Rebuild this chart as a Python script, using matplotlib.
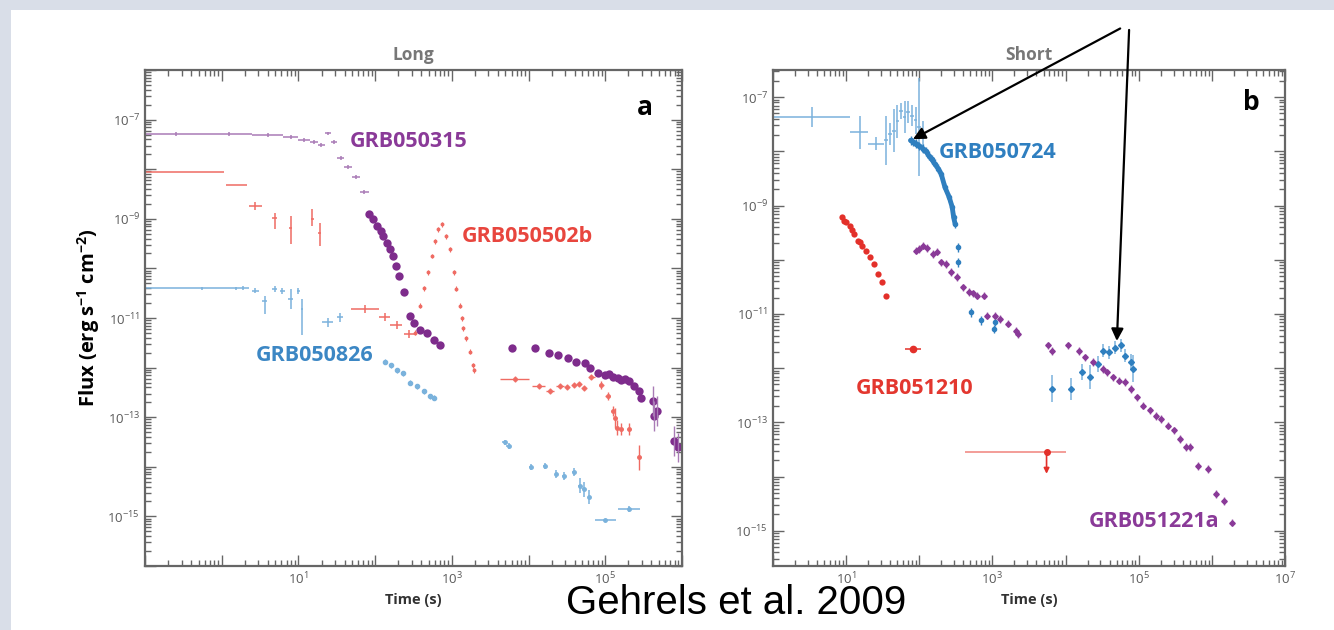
import numpy as np
import matplotlib.pyplot as plt
from matplotlib.patches import Rectangle
from matplotlib.ticker import LogLocator, FuncFormatter, NullFormatter

plt.rcParams['font.family'] = ['Open Sans', 'DejaVu Sans']
plt.rcParams['mathtext.default'] = 'regular'

purple = '#7e2c8c'
purple_lt = '#a97bb6'
salmon = '#ef6b63'
red = '#e3302a'
blue = '#2f7fbf'
blue_lt = '#7ab2dc'

# all values below are log10(time [s]) and log10(flux [erg/s/cm2])

# ---------------- Long (panel a) ----------------
# GRB050315, BAT bins (edges) + XRT points
bat315_lo = [-1.0, -0.2, 0.4, 0.8, 1.0, 1.15, 1.25, 1.35, 1.42, 1.5, 1.6, 1.7, 1.8]
bat315_hi = [-0.2, 0.4, 0.8, 1.0, 1.15, 1.25, 1.35, 1.42, 1.5, 1.6, 1.7, 1.8, 1.92]
bat315_f = [-7.29, -7.29, -7.31, -7.36, -7.42, -7.46, -7.52, -7.28, -7.45, -7.78, -7.95, -8.15, -8.45]
xrt315_t = [1.92, 1.97, 2.03, 2.07, 2.10, 2.15, 2.19, 2.23, 2.27, 2.31, 2.38, 2.46, 2.51, 2.59,
            2.67, 2.77, 2.85, 3.79, 4.08, 4.26, 4.38, 4.51, 4.62, 4.74, 4.80, 4.90, 5.0, 5.05,
            5.10, 5.16, 5.21, 5.26, 5.31, 5.38, 5.44, 5.46, 5.62, 5.67, 5.64, 5.90, 5.95]
xrt315_f = [-8.91, -9.01, -9.15, -9.25, -9.35, -9.48, -9.60, -9.75, -9.95, -10.15, -10.48, -10.95,
            -11.11, -11.25, -11.31, -11.45, -11.55, -11.61, -11.61, -11.71, -11.75, -11.81, -11.88,
            -11.91, -12.0, -12.11, -12.15, -12.12, -12.18, -12.20, -12.25, -12.22, -12.28, -12.38,
            -12.48, -12.61, -12.68, -12.88, -12.98, -13.48, -13.61]

# GRB050502b
bat502_t = [-0.47, 0.19, 0.44, 0.69, 0.90, 1.18, 1.28]
bat502_lo = [-1.0, 0.05, 0.36, 0.66, 0.88, 1.16, 1.26]
bat502_hi = [0.03, 0.33, 0.52, 0.72, 0.92, 1.20, 1.30]
bat502_f = [-8.05, -8.31, -8.75, -8.98, -9.18, -9.01, -9.28]
bat502_eup = [0.0, 0.0, 0.08, 0.10, 0.23, 0.20, 0.20]
bat502_edn = [0.0, 0.0, 0.08, 0.23, 0.33, 0.14, 0.27]
x502_t = [1.87, 2.13, 2.28, 2.44]
x502_lo = [1.69, 2.05, 2.20, 2.38]
x502_hi = [2.05, 2.20, 2.35, 2.50]
x502_f = [-10.81, -10.98, -11.15, -11.33]
fl502_t = [2.52, 2.59, 2.64, 2.69, 2.74, 2.78, 2.82, 2.87, 2.92, 2.97, 3.03, 3.05, 3.10, 3.13,
           3.15, 3.18, 3.23, 3.28, 3.29]
fl502_f = [-11.3, -10.75, -10.4, -10.08, -9.75, -9.45, -9.21, -9.11, -9.35, -9.61, -10.08, -10.41,
           -10.75, -11.01, -11.21, -11.41, -11.68, -11.95, -12.05]
late502_t = [3.82, 4.13, 4.28, 4.41, 4.50, 4.59, 4.66, 4.72, 4.82, 4.95, 5.03, 5.10, 5.13, 5.15,
             5.21, 5.31, 5.44]
late502_f = [-12.23, -12.38, -12.48, -12.38, -12.40, -12.35, -12.33, -12.41, -12.18, -12.35,
             -12.58, -12.88, -13.01, -13.21, -13.24, -13.24, -13.81]
late502_dt = [0.19, 0.08, 0.05, 0.05, 0.04, 0.04, 0.04, 0.04, 0.04, 0.03, 0.03, 0.02, 0.02, 0.02,
              0.02, 0.03, 0.02]
late502_df = [0.06, 0.06, 0.06, 0.06, 0.06, 0.06, 0.06, 0.06, 0.06, 0.08, 0.08, 0.1, 0.2, 0.15,
              0.12, 0.12, 0.25]

# GRB050826
bat826_t = [-0.26, 0.18, 0.28, 0.44, 0.56, 0.69, 0.79, 0.90, 1.0, 1.05, 1.38, 1.54]
bat826_lo = [-1.0, 0.10, 0.25, 0.39, 0.53, 0.66, 0.76, 0.87, 0.98, 1.04, 1.31, 1.50]
bat826_hi = [0.10, 0.25, 0.35, 0.49, 0.59, 0.72, 0.82, 0.93, 1.02, 1.06, 1.45, 1.58]
bat826_f = [-10.40, -10.40, -10.40, -10.45, -10.65, -10.41, -10.45, -10.61, -10.45, -10.81, -11.08, -10.98]
bat826_eup = [0.03, 0.03, 0.04, 0.05, 0.10, 0.06, 0.06, 0.2, 0.06, 0.2, 0.08, 0.08]
bat826_edn = [0.03, 0.03, 0.04, 0.05, 0.27, 0.06, 0.06, 0.2, 0.06, 0.54, 0.1, 0.1]
xrt826_t = [2.13, 2.21, 2.28, 2.36, 2.46, 2.54, 2.64, 2.72, 2.77]
xrt826_f = [-11.88, -11.95, -12.05, -12.11, -12.31, -12.38, -12.48, -12.58, -12.61]
late826_t = [3.69, 3.74, 4.03, 4.21, 4.36, 4.46, 4.59, 4.67, 4.72, 4.79, 5.0, 5.31]
late826_f = [-13.51, -13.58, -14.01, -13.98, -14.15, -14.18, -14.11, -14.38, -14.45, -14.61, -15.08, -14.85]
late826_dt = [0.03, 0.03, 0.02, 0.02, 0.02, 0.02, 0.02, 0.02, 0.02, 0.02, 0.14, 0.14]
late826_df = [0.06, 0.06, 0.06, 0.06, 0.08, 0.08, 0.08, 0.15, 0.15, 0.15, 0.03, 0.06]

# ---------------- Short (panel b) ----------------
# GRB050724
bat724_t = [0.53, 1.19, 1.41, 1.55, 1.60, 1.65, 1.70, 1.75, 1.80, 1.85, 1.90, 1.95, 2.00, 2.05]
bat724_lo = [0.0, 1.05, 1.30, 1.52, 1.575, 1.625, 1.675, 1.725, 1.775, 1.825, 1.875, 1.925, 1.975, 2.025]
bat724_hi = [1.05, 1.30, 1.52, 1.575, 1.625, 1.675, 1.725, 1.775, 1.825, 1.875, 1.925, 1.975, 2.025, 2.075]
bat724_f = [-7.37, -7.65, -7.86, -7.80, -7.68, -7.62, -7.45, -7.25, -7.37, -7.28, -7.34, -7.43, -7.55, -7.74]
bat724_df = [0.18, 0.3, 0.12, 0.45, 0.2, 0.4, 0.3, 0.15, 0.3, 0.2, 0.2, 0.25, 0.9, 0.3]
xrt724_t = [1.88, 1.92, 1.96, 2.0, 2.05, 2.09, 2.13, 2.17, 2.21, 2.26, 2.30, 2.35, 2.41, 2.45,
            2.47, 2.49, 2.53, 2.53, 2.71, 2.85, 3.02, 3.04]
xrt724_f = [-7.80, -7.83, -7.86, -7.90, -7.95, -8.0, -8.08, -8.15, -8.23, -8.32, -8.42, -8.66,
            -8.85, -9.03, -9.22, -9.34, -9.77, -10.05, -10.97, -11.12, -11.28, -11.15]
late724_t = [3.82, 4.07, 4.23, 4.34, 4.45, 4.51, 4.59, 4.68, 4.76, 4.81, 4.90, 4.92]
late724_f = [-12.38, -12.38, -12.07, -12.17, -11.92, -11.68, -11.71, -11.62, -11.58, -11.77, -11.89, -12.01]
late724_df = [0.25, 0.2, 0.15, 0.22, 0.15, 0.12, 0.12, 0.12, 0.12, 0.12, 0.15, 0.25]

# GRB051210
g1210_t = [0.94, 0.97, 1.0, 1.05, 1.08, 1.11, 1.16, 1.19, 1.22, 1.27, 1.33, 1.38, 1.44, 1.49, 1.54, 1.91]
g1210_f = [-9.22, -9.28, -9.31, -9.37, -9.45, -9.52, -9.65, -9.68, -9.74, -9.83, -9.95, -10.08,
           -10.26, -10.42, -10.66, -11.65]
ul1210_t, ul1210_lo, ul1210_hi, ul1210_f = 3.74, 2.63, 4.01, -13.55

# GRB051221a
g1221_t = [1.96, 2.0, 2.05, 2.10, 2.19, 2.24, 2.30, 2.36, 2.44, 2.52, 2.60, 2.68, 2.74, 2.79, 2.88,
           2.93, 3.04, 3.10, 3.21, 3.32, 3.35, 3.76, 3.82, 4.04, 4.18, 4.26, 4.37, 4.51, 4.57, 4.65,
           4.73, 4.81, 4.90, 4.98, 5.06, 5.15, 5.23, 5.31, 5.40, 5.48, 5.56, 5.64, 5.70, 5.81, 5.95,
           6.06, 6.17, 6.28]
g1221_f = [-9.83, -9.80, -9.74, -9.78, -9.89, -9.85, -10.05, -10.08, -10.23, -10.32, -10.51, -10.6,
           -10.62, -10.66, -10.66, -11.03, -11.03, -11.09, -11.18, -11.31, -11.37, -11.58, -11.68,
           -11.58, -11.68, -11.80, -11.89, -12.02, -12.08, -12.17, -12.23, -12.26, -12.38, -12.54,
           -12.69, -12.78, -12.88, -12.94, -13.06, -13.15, -13.31, -13.46, -13.46, -13.8, -13.86,
           -14.32, -14.45, -14.85]


def p10(a):
    return np.power(10.0, np.asarray(a, dtype=float))


def eb(ax, t, f, tlo=None, thi=None, fdn=None, fup=None, **kw):
    t = np.asarray(t, float)
    f = np.asarray(f, float)
    xerr = None
    yerr = None
    if tlo is not None:
        xerr = [p10(t) - p10(tlo), p10(thi) - p10(t)]
    if fdn is not None:
        yerr = [p10(f) - p10(f - np.asarray(fdn)), p10(f + np.asarray(fup)) - p10(f)]
    ax.errorbar(p10(t), p10(f), xerr=xerr, yerr=yerr, **kw)


fig = plt.figure(figsize=(13.34, 6.30), dpi=100)
fig.patch.set_facecolor('#d9dee8')
fig.add_artist(Rectangle((11 / 1334, 0), 1, 1 - 10 / 630, transform=fig.transFigure,
                         facecolor='white', edgecolor='none', zorder=-5))

axL = fig.add_axes([145 / 1334, 1 - 566 / 630, 537 / 1334, 496 / 630])
axR = fig.add_axes([773 / 1334, 1 - 566 / 630, 512 / 1334, 496 / 630])


def style(ax, xl, yl, xlabels):
    ax.set_xscale('log')
    ax.set_yscale('log')
    ax.set_xlim(*xl)
    ax.set_ylim(*yl)
    ax.patch.set_alpha(0)
    for s in ax.spines.values():
        s.set_color('#666666')
        s.set_linewidth(1.6)
    ax.xaxis.set_major_locator(LogLocator(base=10, numticks=30))
    ax.yaxis.set_major_locator(LogLocator(base=10, numticks=30))
    ax.xaxis.set_minor_locator(LogLocator(base=10, subs=np.arange(2, 10), numticks=100))
    ax.yaxis.set_minor_locator(LogLocator(base=10, subs=np.arange(2, 10), numticks=100))
    ax.xaxis.set_minor_formatter(NullFormatter())
    ax.yaxis.set_minor_formatter(NullFormatter())

    def fx(v, pos):
        e = int(round(np.log10(v)))
        return r'$10^{%d}$' % e if e in xlabels else ''

    def fy(v, pos):
        e = int(round(np.log10(v)))
        return r'$10^{%d}$' % e if e % 2 else ''

    ax.xaxis.set_major_formatter(FuncFormatter(fx))
    ax.yaxis.set_major_formatter(FuncFormatter(fy))
    ax.tick_params(which='both', direction='in', top=True, right=True, color='#666666',
                   labelcolor='#5a5a5a', labelsize=9.5, width=1)
    ax.tick_params(which='major', length=8)
    ax.tick_params(which='minor', length=4)
    ax.set_xlabel('Time (s)', fontsize=10.5, fontweight='bold', color='#333333', labelpad=4)


style(axL, (1e-1, 1e6), (1e-16, 1e-6), (1, 3, 5))
style(axR, (1, 1e7), (10 ** -15.65, 10 ** -6.5), (1, 3, 5, 7))
axL.set_ylabel('Flux (erg s$^{-1}$ cm$^{-2}$)', fontsize=14.5, fontweight='bold', labelpad=4)
axL.set_title('Long', fontsize=12.5, fontweight='bold', color='#777777', pad=7)
axR.set_title('Short', fontsize=12.5, fontweight='bold', color='#777777', pad=7)
axL.text(0.93, 0.925, 'a', transform=axL.transAxes, fontsize=19, fontweight='bold', ha='center', va='center')
axR.text(0.935, 0.935, 'b', transform=axR.transAxes, fontsize=19, fontweight='bold', ha='center', va='center')

# ---- panel a ----
c315 = 0.5 * (np.array(bat315_lo) + np.array(bat315_hi))
eb(axL, c315, bat315_f, bat315_lo, bat315_hi, [0.04] * len(c315), [0.04] * len(c315),
   fmt='none', ecolor=purple_lt, elinewidth=1.1)
axL.plot(p10(xrt315_t), p10(xrt315_f), 'o', color=purple, ms=6, mec='none')
axL.errorbar(p10(xrt315_t[-5:]), p10(xrt315_f[-5:]),
             yerr=[p10(xrt315_f[-5:]) * 0.5, p10(xrt315_f[-5:]) * 1.0],
             fmt='none', ecolor=purple_lt, elinewidth=1)

eb(axL, bat502_t, bat502_f, bat502_lo, bat502_hi, bat502_edn, bat502_eup,
   fmt='none', ecolor=salmon, elinewidth=1.1)
eb(axL, x502_t, x502_f, x502_lo, x502_hi, [0.08] * 4, [0.08] * 4, fmt='none', ecolor=salmon, elinewidth=1.1)
eb(axL, fl502_t, fl502_f, fdn=[0.05] * len(fl502_t), fup=[0.05] * len(fl502_t),
   fmt='o', ms=1.8, color=salmon, ecolor=salmon, elinewidth=0.8)
lt = np.array(late502_t)
eb(axL, lt, late502_f, lt - np.array(late502_dt), lt + np.array(late502_dt),
   late502_df, late502_df, fmt='o', ms=2.5, color=salmon, ecolor=salmon, elinewidth=1)

eb(axL, bat826_t, bat826_f, bat826_lo, bat826_hi, bat826_edn, bat826_eup,
   fmt='none', ecolor=blue_lt, elinewidth=1.1)
eb(axL, xrt826_t, xrt826_f, fdn=[0.05] * 9, fup=[0.05] * 9, fmt='o', ms=3, color=blue_lt,
   ecolor=blue_lt, elinewidth=0.8)
lt = np.array(late826_t)
eb(axL, lt, late826_f, lt - np.array(late826_dt), lt + np.array(late826_dt),
   late826_df, late826_df, fmt='o', ms=2.5, color=blue_lt, ecolor=blue_lt, elinewidth=1.1)

lab = dict(fontsize=15.5, fontweight='bold', ha='left', va='center')
axL.text(p10(1.67), p10(-7.45), 'GRB050315', color='#8a3a98', **lab)
axL.text(p10(3.13), p10(-9.35), 'GRB050502b', color='#e8463e', **lab)
axL.text(p10(0.44), p10(-11.75), 'GRB050826', color='#3c87c4', **lab)

# ---- panel b ----
eb(axR, bat724_t, bat724_f, bat724_lo, bat724_hi, bat724_df, bat724_df,
   fmt='none', ecolor=blue_lt, elinewidth=1.1)
axR.plot(p10(xrt724_t[:16]), p10(xrt724_f[:16]), '-', color=blue, lw=3.5, solid_capstyle='round')
eb(axR, xrt724_t, xrt724_f, fdn=[0.08] * len(xrt724_t), fup=[0.08] * len(xrt724_t),
   fmt='o', ms=3, color=blue, ecolor=blue, elinewidth=1)
eb(axR, late724_t, late724_f, fdn=late724_df, fup=late724_df, fmt='D', ms=3,
   color=blue, ecolor=blue_lt, elinewidth=1.1)

axR.plot(p10(g1210_t[:-1]), p10(g1210_f[:-1]), 'o', color=red, ms=4.5, mec='none')
eb(axR, [g1210_t[-1]], [g1210_f[-1]], [1.8], [2.02], [0.05], [0.05], fmt='o', ms=4.5,
   color=red, ecolor=red, elinewidth=1.1)
eb(axR, [ul1210_t], [ul1210_f], [ul1210_lo], [ul1210_hi], fmt='o', ms=4, color=red,
   ecolor='#f29590', elinewidth=1.3)
axR.annotate('', xy=(p10(ul1210_t), p10(ul1210_f - 0.45)), xytext=(p10(ul1210_t), p10(ul1210_f)),
             arrowprops=dict(arrowstyle='-|>', color=red, lw=1.2, mutation_scale=8))

n = len(g1221_t)
eb(axR, g1221_t, g1221_f, fdn=[0.07] * n, fup=[0.07] * n, fmt='D', ms=2.8, color='#8a3a98',
   ecolor='#9c5aaa', elinewidth=1)

axR.text(p10(2.27), p10(-8.02), 'GRB050724', color='#2f7fc0', **lab)
axR.text(p10(1.13), p10(-12.38), 'GRB051210', color='#e3372f', **lab)
axR.text(p10(4.32), p10(-14.82), 'GRB051221a', color='#8a3a98', **lab)

# arrows pointing at the flares
axR.annotate('', xy=(p10(1.88), p10(-7.8)), xytext=(p10(4.78), p10(-5.71)),
             arrowprops=dict(arrowstyle='-|>', color='black', lw=1.6, mutation_scale=18),
             annotation_clip=False)
axR.annotate('', xy=(p10(4.70), p10(-11.55)), xytext=(p10(4.87), p10(-5.71)),
             arrowprops=dict(arrowstyle='-|>', color='black', lw=1.6, mutation_scale=18),
             annotation_clip=False)

fig.text(736 / 1334, 1 - 614 / 630, 'Gehrels et al. 2009', fontsize=29, ha='center', va='baseline',
         family=['Liberation Sans', 'DejaVu Sans'])

fig.savefig('out.png', dpi=100, facecolor=fig.get_facecolor())
